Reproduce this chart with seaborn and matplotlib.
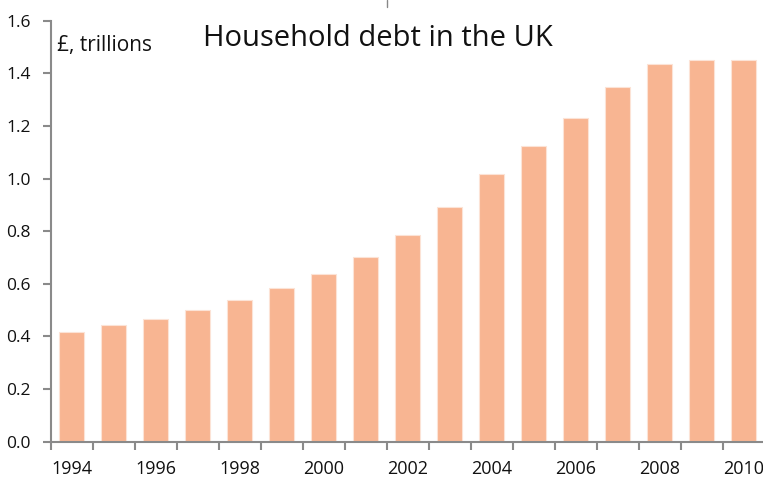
import numpy as np
import pandas as pd
import matplotlib
matplotlib.use("Agg")
import matplotlib.pyplot as plt
import seaborn as sns
from matplotlib.lines import Line2D

years = [str(y) for y in range(1994, 2011)]
debt = [0.417, 0.443, 0.468, 0.501, 0.537, 0.584, 0.639, 0.701, 0.787,
        0.893, 1.016, 1.123, 1.230, 1.347, 1.437, 1.451, 1.449]
ytick_vals = [0.0, 0.2, 0.4, 0.6, 0.8, 1.0, 1.2, 1.4, 1.6]
title = "Household debt in the UK"
unit_label = "£, trillions"

sns.set_theme(style="white")
plt.rcParams['font.family'] = ['Open Sans', 'DejaVu Sans']

df = pd.DataFrame({"year": years, "debt": debt})

fig = plt.figure(figsize=(7.63, 4.78), dpi=100)
W, H = 763, 478
ax = fig.add_axes([50.7 / W, (H - 441.7) / H, 714 / W, (441.7 - 20.7) / H])

sns.barplot(data=df, x="year", y="debt", color="#F8B592", saturation=1,
            width=0.6, edgecolor="#FCE3D6", linewidth=0.8, ax=ax)

ax.set_xlim(-0.5, len(years) - 0.5)
ax.set_ylim(0, 1.6)
ax.set_yticks(ytick_vals)
ax.set_yticklabels([f"{v:.1f}" for v in ytick_vals])
ax.set_xticks(range(0, len(years), 2))
ax.set_xticklabels(years[::2])
ax.set_xticks(np.arange(-0.5, len(years), 1), minor=True)
ax.tick_params(axis="x", which="major", length=0, pad=13, labelsize=13, labelcolor="#111111")
ax.tick_params(axis="x", which="minor", length=6, width=1.5, color="#8a8a8a", bottom=True)
ax.tick_params(axis="y", which="major", length=6, width=1.5, color="#8a8a8a", left=True,
               pad=8.5, labelsize=12.5, labelcolor="#111111")
ax.set_xlabel("")
ax.set_ylabel("")

for s in ["top", "right"]:
    ax.spines[s].set_visible(False)
for s in ["left", "bottom"]:
    ax.spines[s].set_color("#8a8a8a")
    ax.spines[s].set_linewidth(1.5)

fig.text(377.5 / W, 1 - 38 / H, title, ha="center", va="center", fontsize=21, color="#111111")
fig.text(57 / W, 1 - 45 / H, unit_label, ha="left", va="center", fontsize=15, color="#111111")
fig.add_artist(Line2D([387 / W, 387 / W], [1.0, 1 - 7 / H], transform=fig.transFigure,
                      color="#888888", linewidth=1.0))

fig.savefig("out.png", dpi=100)
